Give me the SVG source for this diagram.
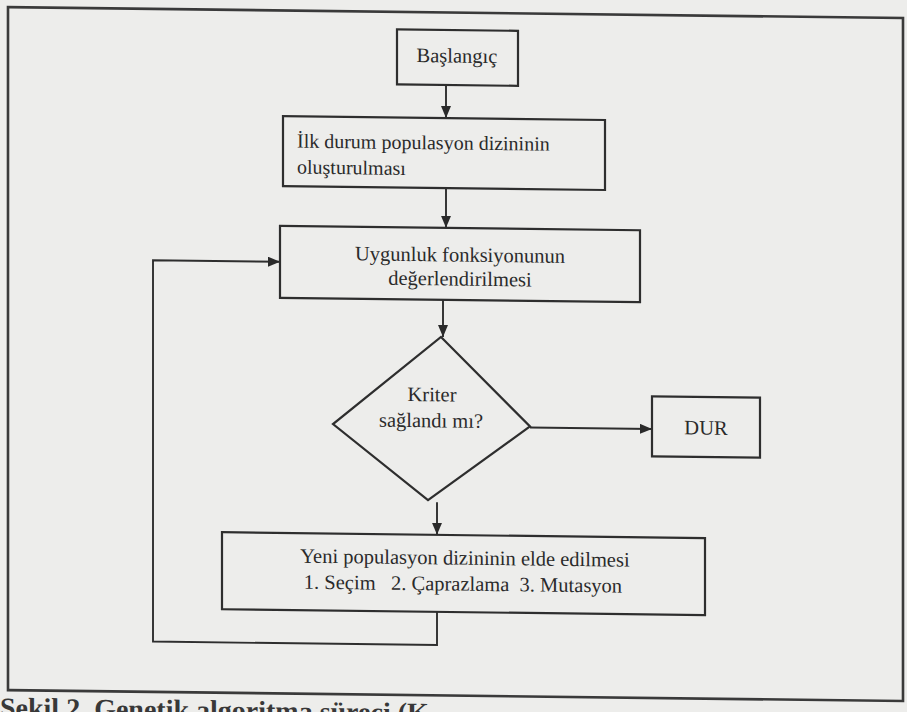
<svg xmlns="http://www.w3.org/2000/svg" width="907" height="712" viewBox="0 0 907 712">
  <style>
    .box { fill: none; stroke: #2e2e2e; stroke-width: 2.2; }
    .frame { fill: none; stroke: #3a3a3a; stroke-width: 2.6; }
    .conn { fill: none; stroke: #2e2e2e; stroke-width: 1.9; }
    .t { font-family: "Liberation Serif", "Times New Roman", serif; font-size: 20.5px; fill: #2a2a2a; }
    .t2 { font-size: 20px; }
    .cap { font-family: "Liberation Serif", "Times New Roman", serif; font-size: 28px; font-weight: bold; fill: #383838; }
  </style>
  <defs>
    <marker id="arr" viewBox="0 0 12 10" refX="12" refY="5" markerWidth="12" markerHeight="10" markerUnits="userSpaceOnUse" orient="auto">
      <path d="M0,0 L12,5 L0,10 Z" fill="#2a2a2a"/>
    </marker>
  </defs>
  <rect x="0" y="0" width="907" height="712" fill="#ededeb"/>
  <g transform="skewY(0.7)">
    <rect class="frame" x="8" y="7" width="895" height="683"/>

    <g id="connectors">
      <line class="conn" x1="446" y1="79.5" x2="446" y2="112.6" marker-end="url(#arr)"/>
      <line class="conn" x1="446" y1="182.6" x2="446" y2="222.4" marker-end="url(#arr)"/>
      <line class="conn" x1="443" y1="294.4" x2="443" y2="331.6" marker-end="url(#arr)"/>
      <line class="conn" x1="530" y1="421" x2="652" y2="421" marker-end="url(#arr)"/>
      <line class="conn" x1="437" y1="497" x2="437" y2="529.5" marker-end="url(#arr)"/>
      <polyline class="conn" points="437,606.4 437,639.7 153,639.7 153,258.4 280,258.4" marker-end="url(#arr)"/>
    </g>

    <g id="start">
      <rect class="box" x="397" y="24.5" width="121" height="55"/>
      <text class="t" x="457" y="57" text-anchor="middle">Başlangıç</text>
    </g>

    <g id="init">
      <rect class="box" x="283" y="112.6" width="322" height="70"/>
      <text class="t t2" x="297" y="144">İlk durum populasyon dizininin</text>
      <text class="t t2" x="297" y="170">oluşturulması</text>
    </g>

    <g id="fitness">
      <rect class="box" x="280" y="222.4" width="360" height="72"/>
      <text class="t" x="460" y="256" text-anchor="middle">Uygunluk fonksiyonunun</text>
      <text class="t" x="460" y="280" text-anchor="middle">değerlendirilmesi</text>
    </g>

    <g id="criterion">
      <polygon class="box" points="441,331.6 530,420 428,495 333,420"/>
      <text class="t" x="432" y="396" text-anchor="middle">Kriter</text>
      <text class="t" x="431" y="422" text-anchor="middle">sağlandı mı?</text>
    </g>

    <g id="stop">
      <rect class="box" x="652" y="388.4" width="108" height="60"/>
      <text class="t" x="706" y="426" text-anchor="middle">DUR</text>
    </g>

    <g id="newpop">
      <rect class="box" x="222" y="529.5" width="483" height="77"/>
      <text class="t" x="465" y="559" text-anchor="middle">Yeni populasyon dizininin elde edilmesi</text>
      <text class="t" x="463" y="585" text-anchor="middle" xml:space="preserve">1. Seçim   2. Çaprazlama  3. Mutasyon</text>
    </g>

    <text class="cap" x="0" y="717">Şekil 2. Genetik algoritma süreci (K</text>
  </g>
</svg>
